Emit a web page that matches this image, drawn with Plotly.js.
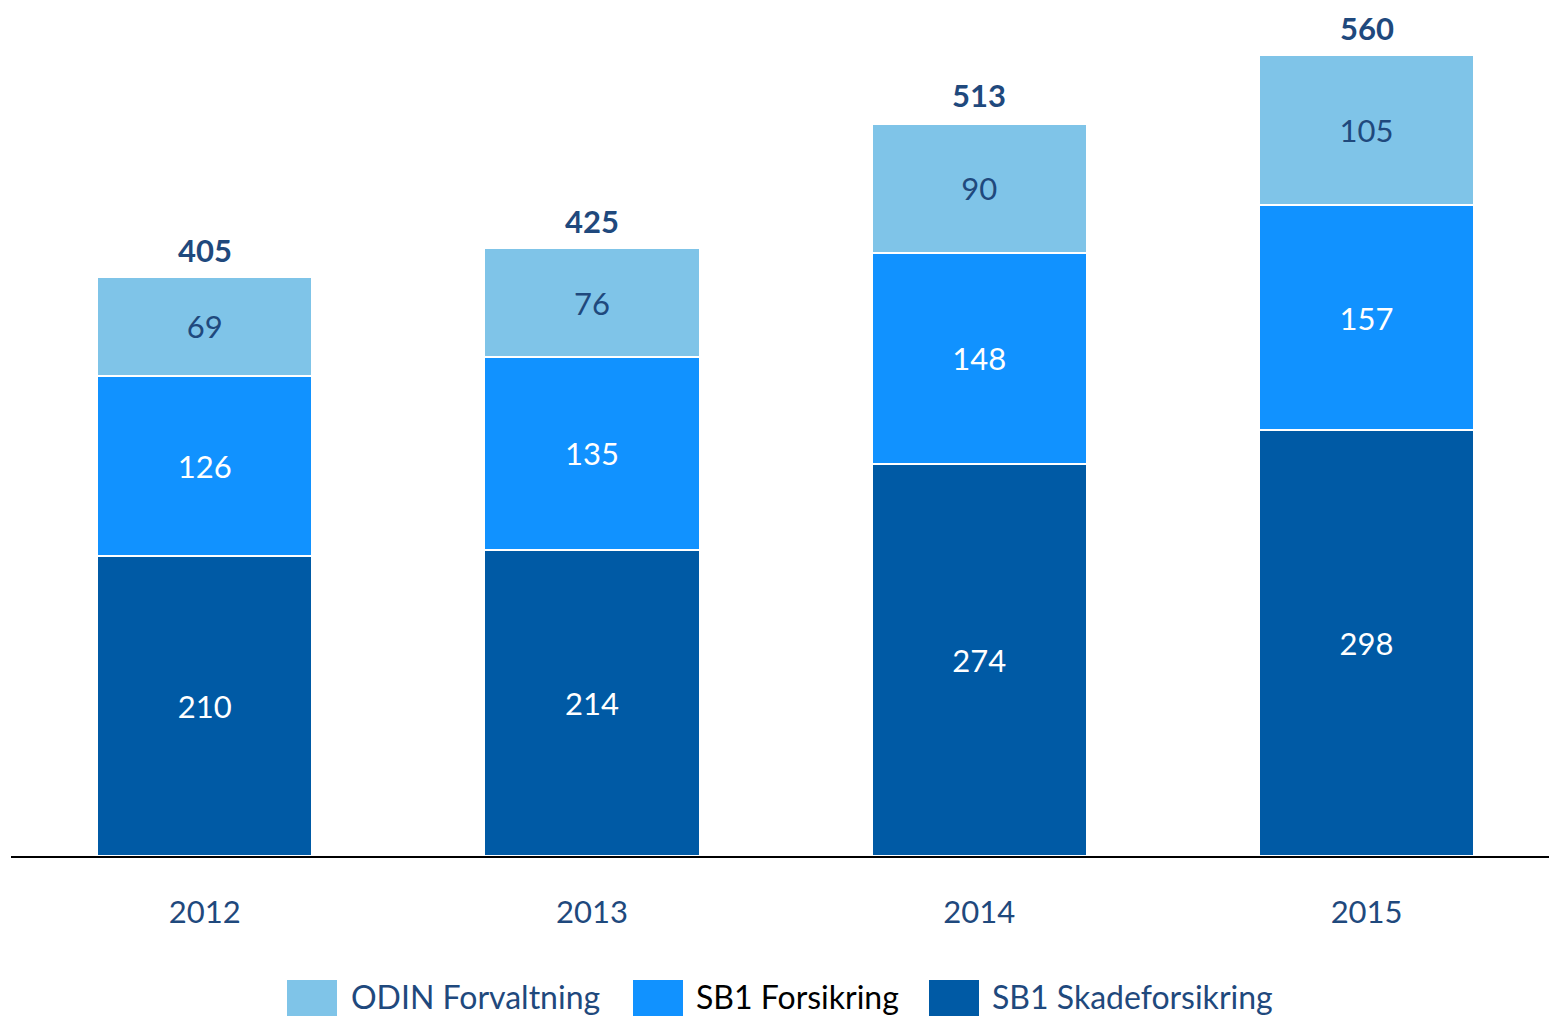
<!DOCTYPE html>
<html>
<head>
<meta charset="utf-8">
<script src="https://cdn.plot.ly/plotly-3.0.1.min.js"></script>
<style>
  html, body { margin: 0; padding: 0; background: #fff; }
  #chart { width: 1549px; height: 1018px; }
</style>
</head>
<body>
<div id="chart"></div>
<script>
const years = ["2012", "2013", "2014", "2015"]
const skade = [210, 214, 274, 298]
const forsikring = [126, 135, 148, 157]
const odin = [69, 76, 90, 105]
const totals = [405, 425, 513, 560]
const seriesNames = ["ODIN Forvaltning", "SB1 Forsikring", "SB1 Skadeforsikring"]

const W = 1549, H = 1018
const margin = { l: 11, r: 0, t: 40, b: 162 }
const plotW = W - margin.l - margin.r
const plotH = H - margin.t - margin.b
const px2x = p => (p - margin.l) / plotW
const px2y = p => (H - margin.b - p) / plotH

const darkText = "#1f497d"
const font = "Lato, 'Open Sans', sans-serif"

function bar(name, values, color, textColor) {
    return {
        type: "bar",
        name: name,
        x: years,
        y: values,
        width: 0.556,
        marker: { color: color, line: { color: "#ffffff", width: 2 } },
        text: values.map(String),
        textposition: "inside",
        insidetextanchor: "middle",
        textangle: 0,
        insidetextfont: { family: font, size: 31, color: textColor },
        hoverinfo: "skip",
        showlegend: false
    }
}

const data = [
    bar(seriesNames[2], skade, "#005aa5", "#ffffff"),
    bar(seriesNames[1], forsikring, "#1192ff", "#ffffff"),
    bar(seriesNames[0], odin, "#7fc4e8", darkText)
]

// totals above each stack (x by category index)
const annotations = years.map((yr, i) => ({
    x: i,
    y: totals[i],
    xref: "x",
    yref: "y",
    text: "<b>" + totals[i] + "</b>",
    showarrow: false,
    yanchor: "bottom",
    yshift: 6,
    font: { family: font, size: 31, color: darkText }
}))

// legend drawn by hand to get the large swatches
const legendItems = [
    { name: seriesNames[0], color: "#7fc4e8", textColor: darkText, x0: 287, tx: 349 },
    { name: seriesNames[1], color: "#1192ff", textColor: "#000000", x0: 633, tx: 694 },
    { name: seriesNames[2], color: "#005aa5", textColor: darkText, x0: 929, tx: 990 }
]
const shapes = []
legendItems.forEach(item => {
    shapes.push({
        type: "rect", xref: "paper", yref: "paper",
        x0: px2x(item.x0), x1: px2x(item.x0 + 50),
        y0: px2y(1016), y1: px2y(980),
        fillcolor: item.color, line: { width: 0 }
    })
    annotations.push({
        xref: "paper", yref: "paper",
        x: px2x(item.tx), y: px2y(996),
        xanchor: "left", yanchor: "middle",
        text: item.name, showarrow: false,
        font: { family: font, size: 32, color: item.textColor }
    })
})

const layout = {
    width: W,
    height: H,
    margin: margin,
    barmode: "stack",
    bargap: 0,
    paper_bgcolor: "#ffffff",
    plot_bgcolor: "#ffffff",
    showlegend: false,
    xaxis: {
        type: "category",
        range: [-0.5, 3.471],
        showline: true,
        linecolor: "#000000",
        linewidth: 2,
        ticks: "",
        ticklabelstandoff: 28,
        tickfont: { family: font, size: 31, color: darkText },
        showgrid: false,
        zeroline: false,
        fixedrange: true
    },
    yaxis: {
        range: [0, 570.6],
        visible: false,
        showgrid: false,
        zeroline: false,
        fixedrange: true
    },
    annotations: annotations,
    shapes: shapes
}

Plotly.newPlot("chart", data, layout, { displayModeBar: false, staticPlot: true })
</script>
</body>
</html>
